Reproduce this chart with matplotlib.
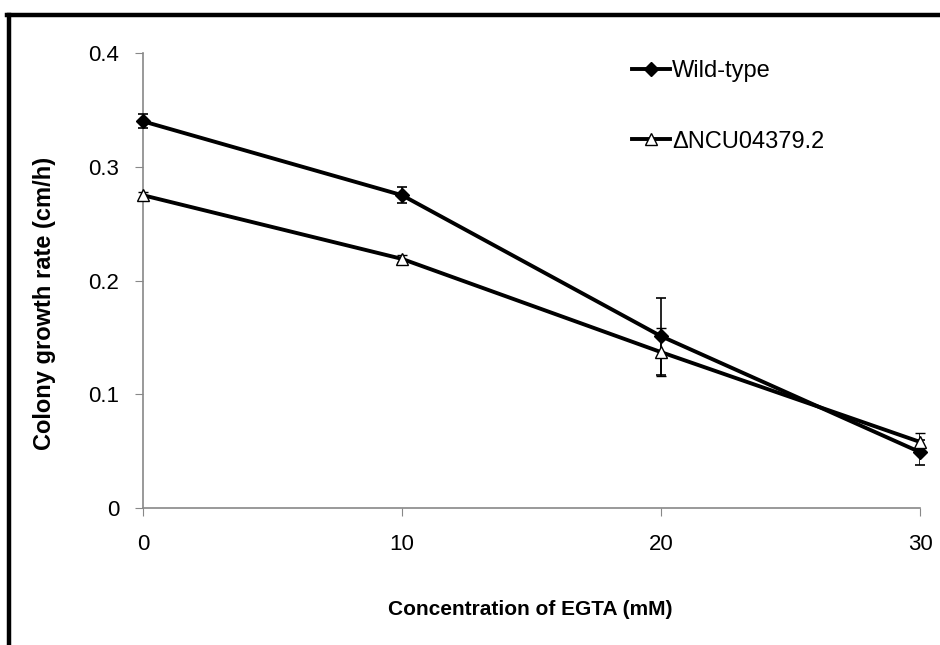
import matplotlib.pyplot as plt
from matplotlib.lines import Line2D

plt.rcParams['font.family'] = ['Liberation Sans', 'DejaVu Sans']

# datos
egta = [0, 10, 20, 30]
wild_type = [0.340, 0.275, 0.151, 0.049]
wild_type_err = [0.006, 0.007, 0.034, 0.011]
mutant = [0.275, 0.219, 0.137, 0.058]
mutant_err = [0.003, 0.003, 0.021, 0.008]

fig = plt.figure(figsize=(9.4, 6.45), dpi=100)
ax = fig.add_axes([0.152, 0.2124, 0.827, 0.7054])

ax.errorbar(egta, wild_type, yerr=wild_type_err, color='black', lw=2.8,
            marker='D', ms=7.5, mfc='black', mec='black', ecolor='black',
            elinewidth=1.2, capsize=3.5, capthick=1.2, label='Wild-type', zorder=3)
ax.errorbar(egta, mutant, yerr=mutant_err, color='black', lw=2.8,
            marker='^', ms=8, mfc='white', mec='black', mew=1.0, ecolor='black',
            elinewidth=1.2, capsize=3.5, capthick=1.2, label='\u0394NCU04379.2', zorder=3)

ax.set_xlim(0, 30)
ax.set_ylim(0, 0.4)
ax.set_xticks([0, 10, 20, 30])
ax.set_yticks([0, 0.1, 0.2, 0.3, 0.4])
ax.set_yticklabels(['0', '0.1', '0.2', '0.3', '0.4'])
ax.tick_params(direction='out', length=6, color='#888888', labelsize=16)
ax.tick_params(axis='x', pad=13)
ax.tick_params(axis='y', pad=11)

for s in ['top', 'right']:
    ax.spines[s].set_visible(False)
for s in ['left', 'bottom']:
    ax.spines[s].set_color('#888888')
    ax.spines[s].set_linewidth(1.2)
    ax.spines[s].set_clip_on(False)
for line in ax.lines:
    line.set_clip_on(False)

ax.set_xlabel('Concentration of EGTA (mM)', fontsize=15, fontweight='bold')
ax.set_ylabel('Colony growth rate (cm/h)', fontsize=17, fontweight='bold')
ax.xaxis.set_label_coords(0.498, -0.203)
ax.yaxis.set_label_coords(-0.112, 0.45)

handles, labels = ax.get_legend_handles_labels()
handles = [h[0] for h in handles]
ax.legend(handles, labels, loc='upper left', bbox_to_anchor=(0.629, 0.984),
          frameon=False, fontsize=17, handlelength=1.6, handletextpad=0.1,
          labelspacing=2.05, borderpad=0, borderaxespad=0, markerscale=1.0)

# marco exterior (arriba, izquierda, derecha)
fig.add_artist(Line2D([0.0095, 0.0095], [0, 0.977], transform=fig.transFigure,
                      color='black', lw=3.2))
fig.add_artist(Line2D([0.0078, 1.0], [0.9765, 0.9765], transform=fig.transFigure,
                      color='black', lw=3.2))

plt.savefig('out.png', dpi=100)
